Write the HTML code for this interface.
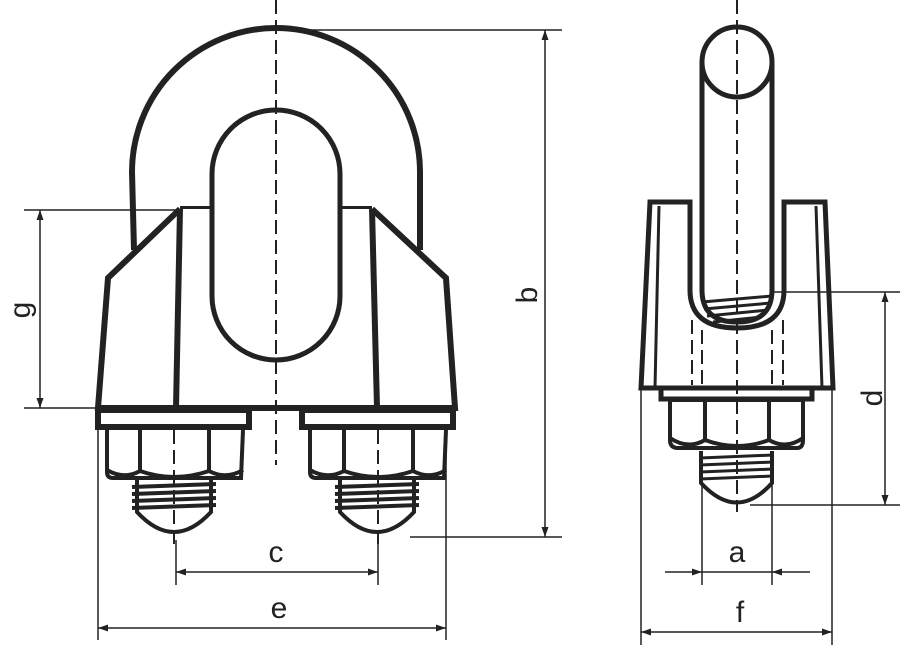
<!DOCTYPE html>
<html><head><style>html,body{margin:0;padding:0;background:#fff;}svg{display:block}</style></head>
<body>
<svg width="900" height="646" viewBox="0 0 900 646" xmlns="http://www.w3.org/2000/svg" font-family="Liberation Sans, sans-serif">
<defs>
<marker id="ar" viewBox="0 0 10 10" refX="10" refY="5" markerWidth="12" markerHeight="10" orient="auto-start-reverse" markerUnits="userSpaceOnUse"><path d="M0,1.5 L10,5 L0,8.5 z" fill="#222"/></marker>
</defs>
<g stroke="#222" fill="none">
<path d="M134,250 L132,172 A144,144 0 0 1 420,172 L420,250" stroke-width="6"/>
<path d="M180,209 L212,209 M340,209 L372,209" stroke-width="6"/>
<path d="M180,209 L108,278 L98,408 L455,408 L446,278 L372,209" fill="#fff" stroke-width="6"/>
<path d="M180,209 L176,408 M372,209 L377,408" stroke-width="6"/>
<path d="M212,174 A64,64 0 0 1 340,174 L340,296 A64,64 0 0 1 212,296 Z" fill="#fff" stroke-width="5"/>
<rect x="98" y="410" width="151" height="17" fill="#fff" stroke-width="6"/>
<rect x="302" y="410" width="151" height="17" fill="#fff" stroke-width="6"/>
<g stroke-width="4">
<path d="M107,430 L107,472 Q107,478 113,478 L241,478 L243,430" fill="#fff"/>
<path d="M140,430 L140,471 M209,430 L209,471"/>
<path d="M107,470 Q124,480 140,471 Q174,483 209,471 Q226,480 243,470"/>
<path d="M310,430 L310,472 Q310,478 316,478 L444,478 L446,430" fill="#fff"/>
<path d="M344,430 L344,471 M413,430 L413,471"/>
<path d="M310,470 Q327,480 344,471 Q378,483 413,471 Q430,480 446,470"/>
<path d="M137,480 L137,512 Q174,552 211,512 L211,480"/>
<path d="M132,487 L216,484 M132,494 L216,491 M132,501 L216,498 M132,508 L216,505"/>
<path d="M340,480 L340,512 Q377,552 414,512 L414,480"/>
<path d="M335,487 L419,484 M335,494 L419,491 M335,501 L419,498 M335,508 L419,505"/>
</g>
<g stroke-width="2" stroke-dasharray="14,6">
<path d="M276,0 L276,465"/>
<path d="M174,430 L174,545 M378,430 L378,545"/>
</g>
<g stroke-width="1.5">
<path d="M276,30 L562,30 M410,537 L562,537"/>
<path d="M545,30 L545,537" marker-start="url(#ar)" marker-end="url(#ar)"/>
<path d="M24,210 L180,210 M24,408 L98,408"/>
<path d="M40,210 L40,408" marker-start="url(#ar)" marker-end="url(#ar)"/>
<path d="M176,540 L176,585 M378,540 L378,585"/>
<path d="M176,572 L378,572" marker-start="url(#ar)" marker-end="url(#ar)"/>
<path d="M98,430 L98,640 M446,430 L446,640"/>
<path d="M98,628 L446,628" marker-start="url(#ar)" marker-end="url(#ar)"/>
</g>

<path d="M650,202 L690,202 L690,290 Q690,328 737,328 Q784,328 784,290 L784,202 L825,202 L833,388 L641,388 Z" fill="#fff" stroke-width="5"/>
<path d="M659,206 L655,388 M816,206 L822,388" stroke-width="3"/>
<path d="M702,62 L702,290 Q702,322 737,322 Q772,322 772,290 L772,62" fill="#fff" stroke-width="5"/>
<circle cx="737" cy="62" r="35" fill="#fff" stroke-width="5"/>
<path d="M702,302 L772,296 M704,309 L771,303 M707,316 L768,310 M713,322 L762,317" stroke-width="3"/>
<rect x="661" y="388" width="151" height="11" fill="#fff" stroke-width="5"/>
<path d="M670,400 L670,440 Q670,448 678,448 L797,448 Q803,448 803,440 L803,400 Z" fill="#fff" stroke-width="4"/>
<path d="M705,400 L705,440 M769,400 L769,440 M670,438 Q688,450 705,440 Q737,452 769,440 Q786,450 803,438" stroke-width="4"/>
<path d="M701,451 L701,483 Q737,522 772,483 L772,451" fill="#fff" stroke-width="4"/>
<path d="M700,458 L773,455 M700,465 L773,462 M700,472 L773,469 M700,479 L773,476" stroke-width="3"/>
<g stroke-width="2" stroke-dasharray="14,6">
<path d="M737,0 L737,512"/>
<path d="M692,320 L692,385 M702,330 L702,385 M772,330 L772,385 M783,320 L783,385"/>
</g>
<g stroke-width="1.5">
<path d="M770,292 L900,292 M750,505 L900,505"/>
<path d="M885,292 L885,505" marker-start="url(#ar)" marker-end="url(#ar)"/>
<path d="M702,480 L702,585 M772,480 L772,585"/>
<path d="M665,572 L702,572" marker-end="url(#ar)"/>
<path d="M810,572 L772,572" marker-end="url(#ar)"/>
<path d="M702,572 L772,572"/>
<path d="M641,388 L641,645 M832,388 L832,645"/>
<path d="M641,632 L832,632" marker-start="url(#ar)" marker-end="url(#ar)"/>
</g>
</g>
<g fill="#222" font-size="30" text-anchor="middle">
<text x="276" y="562">c</text>
<text x="279" y="618">e</text>
<text x="737" y="562">a</text>
<text x="740" y="622">f</text>
<text transform="translate(537,295) rotate(-90)">b</text>
<text transform="translate(30,310) rotate(-90)">g</text>
<text transform="translate(882,398) rotate(-90)">d</text>
</g>
</svg>
</body></html>
